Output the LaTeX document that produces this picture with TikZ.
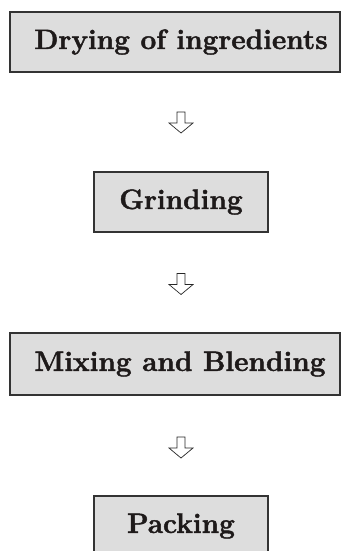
\documentclass[tikz,border=0pt]{standalone}
\usepackage{fontspec}
\newfontfamily\heavyfont[BoldFeatures={FakeBold=1.6}]{Latin Modern Roman}
\definecolor{boxfill}{HTML}{DDDDDD}
\definecolor{boxline}{HTML}{333333}
\definecolor{inkcol}{HTML}{1E1A1A}
\tikzset{
  stagebox/.style={draw=boxline, fill=boxfill, line width=1.4pt, inner sep=0pt},
  stagetext/.style={text=inkcol, inner sep=0pt, font=\heavyfont\fontsize{28}{30}\selectfont\bfseries},
  arrowline/.style={draw=black!85, line width=0.7pt, fill=white, line join=miter},
  downarr/.pic={\path[arrowline] (-4,-10.5) -- (4,-10.5) -- (4,0.5) -- (12,0.5) -- (0,10.5) -- (-12,0.5) -- (-4,0.5) -- cycle;}
}
\begin{document}
\begin{tikzpicture}[x=1pt,y=-1pt]
\useasboundingbox (0,0) rectangle (341,551);
\clip (0,0) rectangle (341,551);
% boxes
\node[stagebox, minimum width=330pt, minimum height=60pt] (b1) at (175,42) {};
\node[stagetext] (t1) at (181,42) {Drying of ingredients};
\node[stagebox, minimum width=174pt, minimum height=60pt] (b2) at (181,202) {};
\node[stagetext] (t2) at (181,202) {Grinding};
\node[stagebox, minimum width=330pt, minimum height=62pt] (b3) at (175,364) {};
\node[stagetext] (t3) at (180,364) {Mixing and Blending};
\node[stagebox, minimum width=174pt, minimum height=60pt] (b4) at (181,526) {};
\node[stagetext] (t4) at (181,526) {Packing};
% arrows
\pic at (181,122.5) {downarr};
\pic at (181,284) {downarr};
\pic at (181,447.5) {downarr};
\end{tikzpicture}
\end{document}
